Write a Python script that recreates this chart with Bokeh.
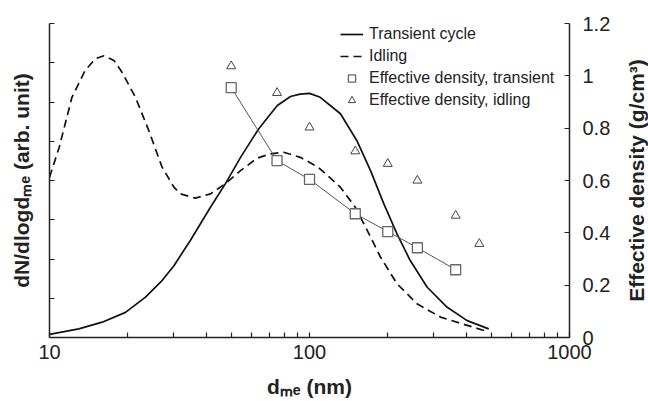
from bokeh.plotting import figure
from bokeh.layouts import row
from bokeh.models import (Range1d, LinearAxis, FixedTicker, Legend, LegendItem)
from bokeh.embed import file_html
from bokeh.resources import INLINE

# ---- data ----
transient_d = [10, 12.96, 15.95, 19.6, 23.4, 27.1, 30.1, 34.8, 41.6, 47.5, 54.3, 63.8,
               75.2, 84.5, 92, 100, 110, 131.5, 152, 171.7, 193, 217, 244, 283.6, 338.6, 404, 489]
transient_n = [0.08, 0.22, 0.39, 0.64, 1.03, 1.45, 1.83, 2.47, 3.32, 3.92, 4.59, 5.32,
               5.91, 6.14, 6.20, 6.22, 6.12, 5.70, 5.02, 4.25, 3.41, 2.64, 1.96, 1.28, 0.77, 0.43, 0.22]

idling_d = [10, 10.9, 12.2, 13.7, 15.0, 16.2, 17.7, 19.0, 21.4, 24.1, 27.1, 30.1, 31.9, 36.4,
            41.6, 47.5, 54.3, 62.9, 70.8, 79.6, 92.2, 108, 131.5, 150, 166.7, 187.5, 217,
            259, 319, 404, 489]
idling_n = [4.08, 4.85, 6.12, 6.80, 7.10, 7.18, 7.06, 6.76, 6.12, 5.27, 4.34, 3.83, 3.66, 3.55,
            3.66, 3.92, 4.25, 4.57, 4.68, 4.72, 4.59, 4.34, 3.83, 3.32, 2.73, 2.05, 1.37,
            0.86, 0.52, 0.31, 0.14]

dens_tr_d = [50, 75, 100, 150, 200, 260, 365]
dens_tr = [0.955, 0.676, 0.604, 0.473, 0.405, 0.343, 0.259]

dens_id_d = [50, 75, 100, 150, 200, 260, 365, 450]
dens_id = [1.037, 0.935, 0.803, 0.712, 0.664, 0.600, 0.466, 0.358]

x_major = [10, 100, 1000]
x_minor = [20, 30, 40, 50, 60, 70, 80, 90, 200, 300, 400, 500, 600, 700, 800, 900]
left_ticks = [0, 1, 2, 3, 4, 5, 6, 7, 8]
right_ticks = [0, 0.2, 0.4, 0.6, 0.8, 1.0, 1.2]
right_labels = ["0", "0.2", "0.4", "0.6", "0.8", "1", "1.2"]

x_title = "dₘₑ (nm)"
left_title = "dN/dlogdₘₑ (arb. unit)"
right_title = "Effective density (g/cm³)"

FONT = "Liberation Sans"
AXC = "#222222"

p = figure(width=618, height=401, x_axis_type="log",
           x_range=Range1d(10, 1000), y_range=Range1d(0, 8),
           output_backend="svg", toolbar_location=None,
           min_border_left=49, min_border_right=49, min_border_top=23, min_border_bottom=64)
p.outline_line_color = None
p.xgrid.visible = False
p.ygrid.visible = False
p.extra_y_ranges = {"dens": Range1d(0, 1.2)}

def title_style(ax, standoff):
    ax.axis_label_text_font = FONT
    ax.axis_label_text_font_size = "21px"
    ax.axis_label_text_font_style = "bold"
    ax.axis_label_text_color = AXC
    ax.axis_label_standoff = standoff

# x axis
xa = p.xaxis[0]
xa.ticker = FixedTicker(ticks=x_major, minor_ticks=x_minor)
xa.major_label_overrides = {10: "10", 100: "100", 1000: "1000"}
xa.major_tick_in = 5
xa.major_tick_out = 0
xa.minor_tick_in = 5
xa.minor_tick_out = 0
xa.major_label_standoff = 7
xa.major_label_text_font = FONT
xa.major_label_text_font_size = "20px"
xa.major_label_text_color = AXC
xa.axis_line_width = 1.5
xa.axis_line_color = AXC
xa.major_tick_line_color = AXC
xa.minor_tick_line_color = AXC
xa.major_tick_line_width = 1.2
xa.minor_tick_line_width = 1.2
xa.axis_label = x_title
title_style(xa, 13)

# left axis (no tick labels)
ya = p.yaxis[0]
ya.ticker = FixedTicker(ticks=left_ticks)
ya.major_label_overrides = {t: "" for t in left_ticks}
ya.major_label_standoff = 0
ya.major_tick_in = 5
ya.major_tick_out = 0
ya.minor_tick_line_color = None
ya.axis_line_width = 1.5
ya.axis_line_color = AXC
ya.major_tick_line_color = AXC
ya.major_tick_line_width = 1.2
ya.axis_label = left_title
title_style(ya, 17)

# right axis (ticks and tick labels)
ra = LinearAxis(y_range_name="dens", ticker=FixedTicker(ticks=right_ticks))
ra.major_label_overrides = {t: s for t, s in zip(right_ticks, right_labels)}
ra.major_tick_in = 5
ra.major_tick_out = 0
ra.minor_tick_line_color = None
ra.major_label_standoff = 13
ra.major_label_text_font = FONT
ra.major_label_text_font_size = "20px"
ra.major_label_text_color = AXC
ra.axis_line_width = 1.5
ra.axis_line_color = AXC
ra.major_tick_line_color = AXC
ra.major_tick_line_width = 1.2
p.add_layout(ra, "right")

# curves
r_tr = p.line(transient_d, transient_n, line_color="#111111", line_width=1.7)
r_id = p.line(idling_d, idling_n, line_color="#111111", line_width=1.7, line_dash="8 5")
p.line(dens_tr_d, dens_tr, y_range_name="dens", line_color="#555555", line_width=1)
r_sq = p.scatter(dens_tr_d, dens_tr, y_range_name="dens", marker="square", size=10,
                 line_color="#666666", line_width=1.3, fill_color="white")
r_tri = p.scatter(dens_id_d, dens_id, y_range_name="dens", marker="triangle", size=9,
                  line_color="#444444", line_width=1, fill_color="white")

legend = Legend(items=[
    LegendItem(label="Transient cycle", renderers=[r_tr]),
    LegendItem(label="Idling", renderers=[r_id]),
    LegendItem(label="Effective density, transient", renderers=[r_sq]),
    LegendItem(label="Effective density, idling", renderers=[r_tri]),
], location=(291, 228))
legend.background_fill_alpha = 0
legend.border_line_color = None
legend.padding = 0
legend.margin = 0
legend.spacing = 4
legend.glyph_width = 23
legend.glyph_height = 18
legend.label_height = 18
legend.label_standoff = 6
legend.label_text_font = FONT
legend.label_text_font_size = "16px"
legend.label_text_color = AXC
p.add_layout(legend)

# narrow companion figure carrying the right-hand title (reads bottom-to-top)
p2 = figure(width=30, height=401, x_range=Range1d(0, 1), y_range=Range1d(0, 1.2),
            output_backend="svg", toolbar_location=None,
            min_border_left=29, min_border_right=0, min_border_top=23, min_border_bottom=64)
p2.outline_line_color = None
p2.xgrid.visible = False
p2.ygrid.visible = False
p2.xaxis.visible = False
t2 = p2.yaxis[0]
t2.ticker = FixedTicker(ticks=[])
t2.axis_line_color = None
t2.major_tick_line_color = None
t2.minor_tick_line_color = None
t2.major_label_standoff = 0
t2.axis_label = right_title
title_style(t2, 0)

open("out.html", "w").write(file_html(row(p, p2, spacing=0), INLINE))
